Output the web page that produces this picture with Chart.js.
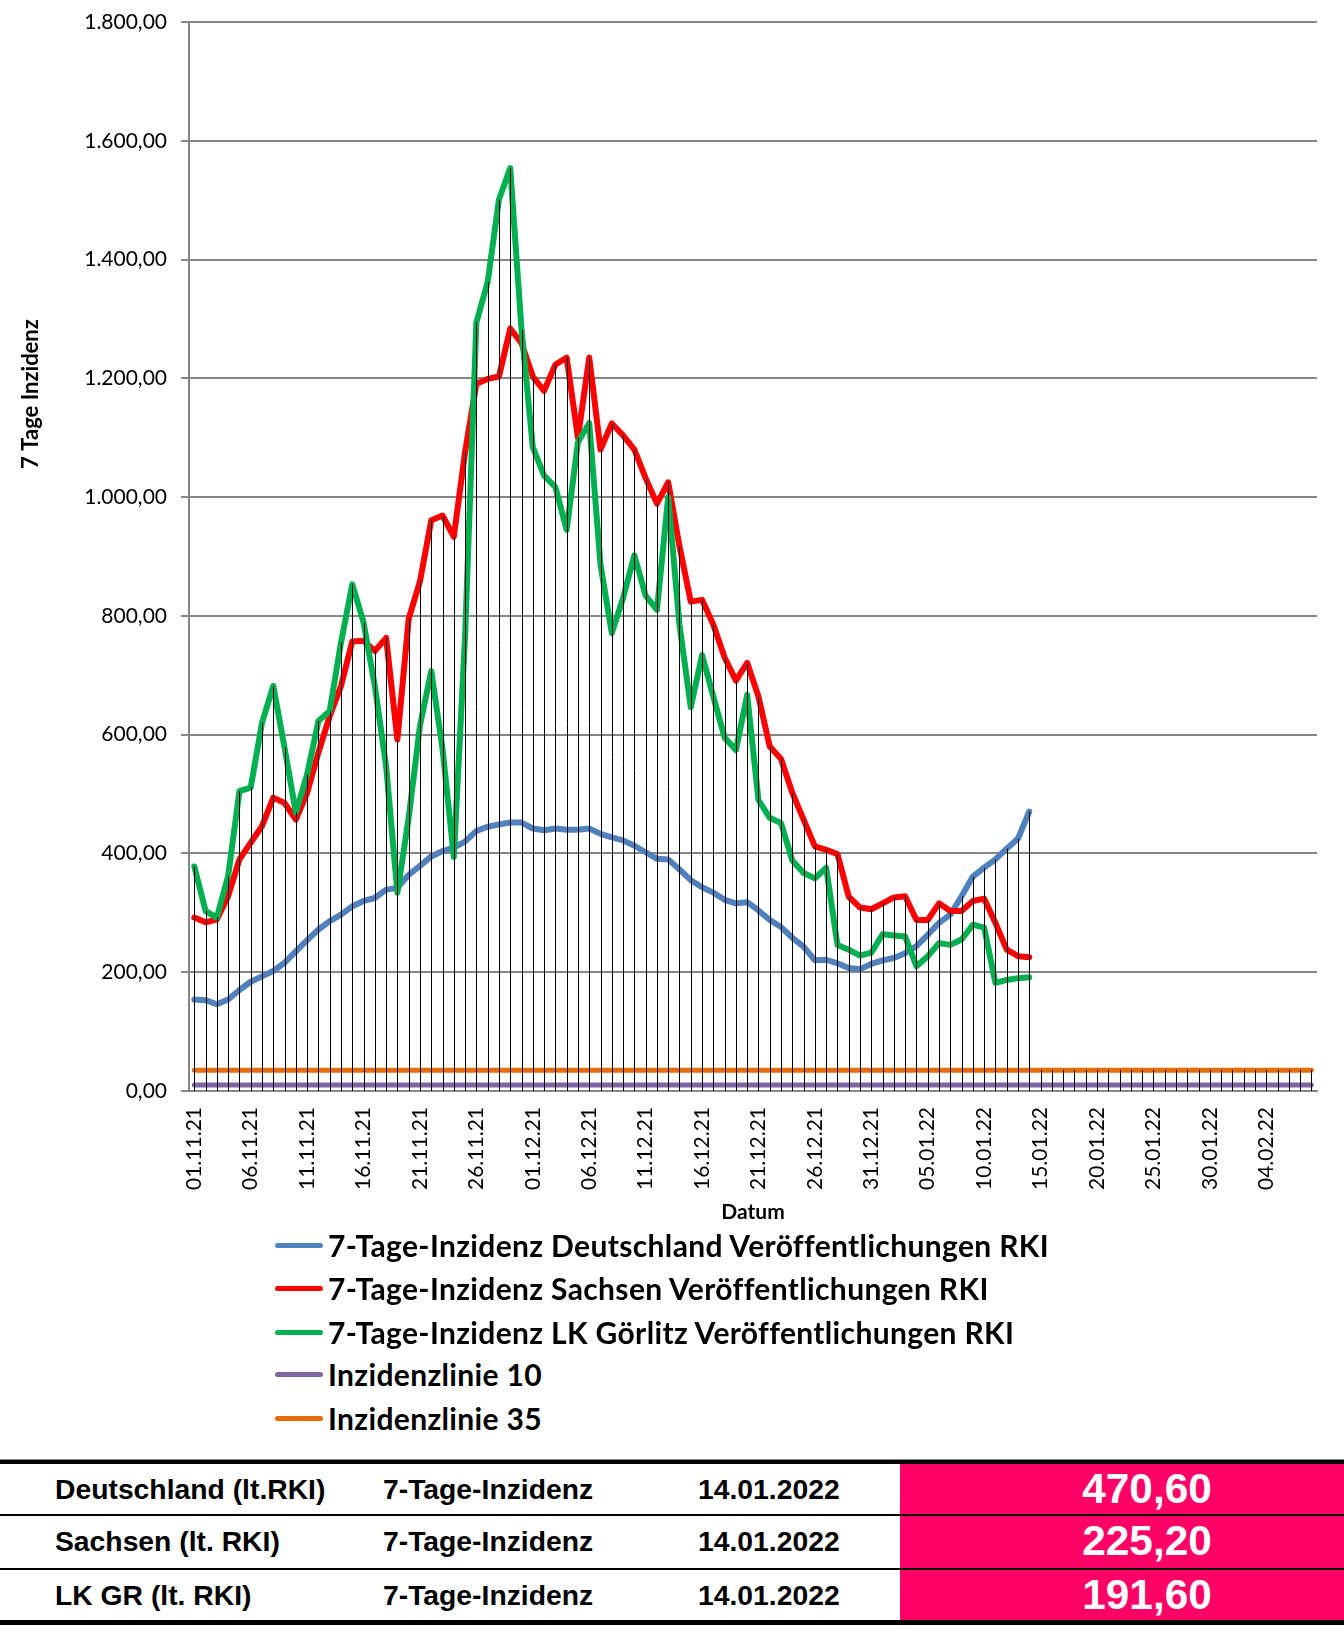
<!DOCTYPE html>
<html>
<head>
<meta charset="utf-8">
<script src="https://cdn.jsdelivr.net/npm/chart.js@4"></script>
<style>
html,body{margin:0;padding:0;background:#fff;}
body{width:1344px;height:1629px;position:relative;overflow:hidden;}
#c{position:absolute;left:0;top:0;}
.legrow{position:absolute;left:275px;height:40px;display:flex;align-items:center;white-space:nowrap;
  font-family:Lato,"Open Sans",sans-serif;font-weight:700;font-size:30px;letter-spacing:0.35px;color:#000;}
.legrow .sw{width:48px;height:5px;border-radius:3px;margin-right:5px;flex:none;}
.hline{position:absolute;left:0;width:1344px;background:#000;}
.pink{position:absolute;left:900px;width:444px;background:#ff0066;}
.cell{position:absolute;height:50px;display:flex;align-items:center;white-space:nowrap;
  font-family:"Liberation Sans",Arial,sans-serif;font-weight:700;font-size:28.3px;color:#000;}
.val{position:absolute;left:900px;width:494px;height:50px;display:flex;align-items:center;justify-content:center;
  font-family:"Liberation Sans",Arial,sans-serif;font-weight:700;font-size:42.4px;color:#fff;}
</style>
</head>
<body>
<canvas id="c" width="1344" height="1232" style="width:1344px;height:1232px"></canvas>
<div id="legend"></div>
<div id="table"></div>
<script>
// ---------- DATA ----------
const dates = [
 "01.11.21","02.11.21","03.11.21","04.11.21","05.11.21","06.11.21","07.11.21","08.11.21","09.11.21","10.11.21",
 "11.11.21","12.11.21","13.11.21","14.11.21","15.11.21","16.11.21","17.11.21","18.11.21","19.11.21","20.11.21",
 "21.11.21","22.11.21","23.11.21","24.11.21","25.11.21","26.11.21","27.11.21","28.11.21","29.11.21","30.11.21",
 "01.12.21","02.12.21","03.12.21","04.12.21","05.12.21","06.12.21","07.12.21","08.12.21","09.12.21","10.12.21",
 "11.12.21","12.12.21","13.12.21","14.12.21","15.12.21","16.12.21","17.12.21","18.12.21","19.12.21","20.12.21",
 "21.12.21","22.12.21","23.12.21","24.12.21","25.12.21","26.12.21","27.12.21","28.12.21","29.12.21","30.12.21",
 "31.12.21","01.01.22","02.01.22","03.01.22","04.01.22","05.01.22","06.01.22","07.01.22","08.01.22","09.01.22",
 "10.01.22","11.01.22","12.01.22","13.01.22","14.01.22","15.01.22","16.01.22","17.01.22","18.01.22","19.01.22",
 "20.01.22","21.01.22","22.01.22","23.01.22","24.01.22","25.01.22","26.01.22","27.01.22","28.01.22","29.01.22",
 "30.01.22","31.01.22","01.02.22","02.02.22","03.02.22","04.02.22","05.02.22","06.02.22","07.02.22","08.02.22"
];

const deutschland = [
 154,153,146,154,170,184,193,202,216,235,
 254,272,286,297,311,320,325,339,342,364,
 379,395,404,410,420,438,445,449,452,452,
 442,439,442,440,440,442,433,427,422,413,
 402,391,390,373,355,343,334,322,316,318,
 304,288,276,258,243,220,221,215,207,205,
 214,220,224,232,244,263,283,297,328,361,
 376,390,408,425,470.6
];

const sachsen = [
 292,284,289,328,390,418,446,494,485,457,
 502,570,631,682,757,758,741,763,592,795,
 858,961,969,933,1076,1191,1199,1203,1284,1259,
 1203,1179,1223,1235,1100,1235,1080,1124,1104,1080,
 1032,989,1025,917,824,827,785,730,691,721,
 664,580,559,502,457,412,406,399,327,309,
 306,316,326,328,288,288,316,303,303,320,
 324,283,238,227,225.2
];

const goerlitz = [
 378,303,292,362,505,511,620,682,578,469,
 533,623,640,755,853,789,682,547,334,460,
 615,707,576,394,767,1294,1362,1501,1554,1282,
 1084,1036,1017,945,1092,1125,886,771,830,902,
 834,810,1000,785,646,734,664,595,574,667,
 490,460,451,388,367,358,376,246,238,228,
 233,264,262,260,210,227,249,246,255,280,
 275,182,187,190,191.6
];

const inzidenzlinie10 = [
 10,10,10,10,10,10,10,10,10,10,10,10,10,10,10,10,10,10,10,10,
 10,10,10,10,10,10,10,10,10,10,10,10,10,10,10,10,10,10,10,10,
 10,10,10,10,10,10,10,10,10,10,10,10,10,10,10,10,10,10,10,10,
 10,10,10,10,10,10,10,10,10,10,10,10,10,10,10,10,10,10,10,10,
 10,10,10,10,10,10,10,10,10,10,10,10,10,10,10,10,10,10,10,10
];

const inzidenzlinie35 = [
 35,35,35,35,35,35,35,35,35,35,35,35,35,35,35,35,35,35,35,35,
 35,35,35,35,35,35,35,35,35,35,35,35,35,35,35,35,35,35,35,35,
 35,35,35,35,35,35,35,35,35,35,35,35,35,35,35,35,35,35,35,35,
 35,35,35,35,35,35,35,35,35,35,35,35,35,35,35,35,35,35,35,35,
 35,35,35,35,35,35,35,35,35,35,35,35,35,35,35,35,35,35,35,35
];

const seriesNames = [
 "7-Tage-Inzidenz Deutschland Veröffentlichungen RKI",
 "7-Tage-Inzidenz Sachsen Veröffentlichungen RKI",
 "7-Tage-Inzidenz LK Görlitz Veröffentlichungen RKI",
 "Inzidenzlinie 10",
 "Inzidenzlinie 35"
];

const yTicks = [0,200,400,600,800,1000,1200,1400,1600,1800];

const tableRegions = ["Deutschland (lt.RKI)","Sachsen (lt. RKI)","LK GR (lt. RKI)"];
const tableMeasure = "7-Tage-Inzidenz";
const tableDate = "14.01.2022";

// ---------- HELPERS ----------
function fmtDE(v){
  const s = Number(v).toFixed(2).split('.');
  return s[0].replace(/\B(?=(\d{3})+(?!\d))/g,'.') + ',' + s[1];
}
const toXY = arr => arr.map((v,i)=>({x:i,y:v}));

const colors = ['#4f81bd','#ff0000','#00b050','#8064a2','#e46c0a'];
const allSeries = [deutschland, sachsen, goerlitz, inzidenzlinie10, inzidenzlinie35];
const orders = [3,2,1,5,4];

const datasets = allSeries.map((arr,k)=>({
  label: seriesNames[k],
  data: toXY(arr),
  borderColor: colors[k],
  backgroundColor: colors[k],
  borderWidth: k<3 ? 6 : 5,
  order: orders[k],
  fill:false
}));

// drop lines: from highest series value at each date down to the x axis
const dropLines = {
  id:'dropLines',
  afterDatasetsDraw(chart){
    const {ctx, scales:{x,y}} = chart;
    const y0 = y.getPixelForValue(0);
    ctx.save();
    ctx.strokeStyle = '#000';
    ctx.lineWidth = 1;
    ctx.beginPath();
    for(let i=0;i<dates.length;i++){
      let m = -Infinity;
      chart.data.datasets.forEach(ds=>{
        const p = ds.data[i];
        if(p && p.y!=null && p.y>m) m = p.y;
      });
      if(m===-Infinity) continue;
      const px = Math.round(x.getPixelForValue(i)) + 0.5;
      ctx.moveTo(px, y.getPixelForValue(m));
      ctx.lineTo(px, y0);
    }
    ctx.stroke();
    ctx.restore();
  }
};

const yTitle = {
  id:'yTitle',
  afterDraw(chart){
    const ctx = chart.ctx;
    ctx.save();
    ctx.translate(31, 394);
    ctx.rotate(-Math.PI/2);
    ctx.font = 'bold 22px Lato, "Open Sans", sans-serif';
    ctx.fillStyle = '#000';
    ctx.textAlign = 'center';
    ctx.textBaseline = 'middle';
    ctx.fillText('7 Tage Inzidenz', 0, 0);
    ctx.restore();
  }
};

new Chart(document.getElementById('c'), {
  type:'line',
  data:{datasets},
  options:{
    responsive:false,
    animation:false,
    devicePixelRatio:1,
    layout:{padding:{top:22,right:27,left:0,bottom:0}},
    plugins:{legend:{display:false},tooltip:{enabled:false}},
    elements:{
      line:{tension:0,borderJoinStyle:'round',borderCapStyle:'round'},
      point:{radius:0,hoverRadius:0}
    },
    scales:{
      x:{
        type:'linear', min:-0.47, max:99.5,
        afterBuildTicks: s => { s.ticks = dates.map((d,i)=>({value:i})).filter(t=>t.value%5===0); },
        afterFit: s => { s.height = 141; s.paddingLeft = 0; s.paddingRight = 0; },
        grid:{display:false,drawTicks:false},
        border:{display:true,color:'#868686',width:2},
        ticks:{autoSkip:false,minRotation:90,maxRotation:90,padding:16,color:'#000',
               font:{family:'Lato',size:21}, callback:v=>dates[v]},
        title:{display:true,text:'Datum',color:'#000',
               font:{family:'Lato',size:21,weight:'bold'},padding:{top:0,bottom:7}}
      },
      y:{
        min:0,max:1800,
        afterBuildTicks: s => { s.ticks = yTicks.map(v=>({value:v})); },
        afterFit: s => { s.width = 189; s.paddingTop = 0; s.paddingBottom = 0; },
        ticks:{padding:14,color:'#000',font:{family:'Lato',size:21},callback:v=>fmtDE(v)},
        grid:{color:'#868686',lineWidth:2,drawTicks:true,tickLength:8,tickColor:'#868686'},
        border:{display:true,color:'#868686',width:2}
      }
    }
  },
  plugins:[dropLines,yTitle]
});

// ---------- LEGEND ----------
const legCenters = [1245,1288,1332,1374,1418];
const leg = document.getElementById('legend');
seriesNames.forEach((name,k)=>{
  const r = document.createElement('div');
  r.className='legrow';
  r.style.top = (legCenters[k]-20)+'px';
  const sw = document.createElement('span'); sw.className='sw'; sw.style.background=colors[k];
  const t = document.createElement('span'); t.textContent=name;
  r.appendChild(sw); r.appendChild(t);
  leg.appendChild(r);
});

// ---------- TABLE ----------
const tb = document.getElementById('table');
const lastVals = [deutschland[deutschland.length-1], sachsen[sachsen.length-1], goerlitz[goerlitz.length-1]];
const rowTops = [1464,1516,1570];
const pink = document.createElement('div'); pink.className='pink';
pink.style.top='1464px'; pink.style.height='156px'; tb.appendChild(pink);
[[1459,1,'#888'],[1460,4,'#000'],[1514,2,'#000'],[1568,2,'#000'],[1620,5,'#000']].forEach(([t,h,c])=>{
  const l=document.createElement('div'); l.className='hline'; l.style.top=t+'px'; l.style.height=h+'px'; l.style.background=c; tb.appendChild(l);
});
tableRegions.forEach((reg,k)=>{
  const mk=(txt,left)=>{const d=document.createElement('div');d.className='cell';d.style.left=left+'px';d.style.top=rowTops[k]+'px';d.textContent=txt;tb.appendChild(d);};
  mk(reg,55); mk(tableMeasure,383); mk(tableDate,698);
  const v=document.createElement('div'); v.className='val'; v.style.top=rowTops[k]+'px'; v.textContent=fmtDE(lastVals[k]); tb.appendChild(v);
});
</script>
</body>
</html>
